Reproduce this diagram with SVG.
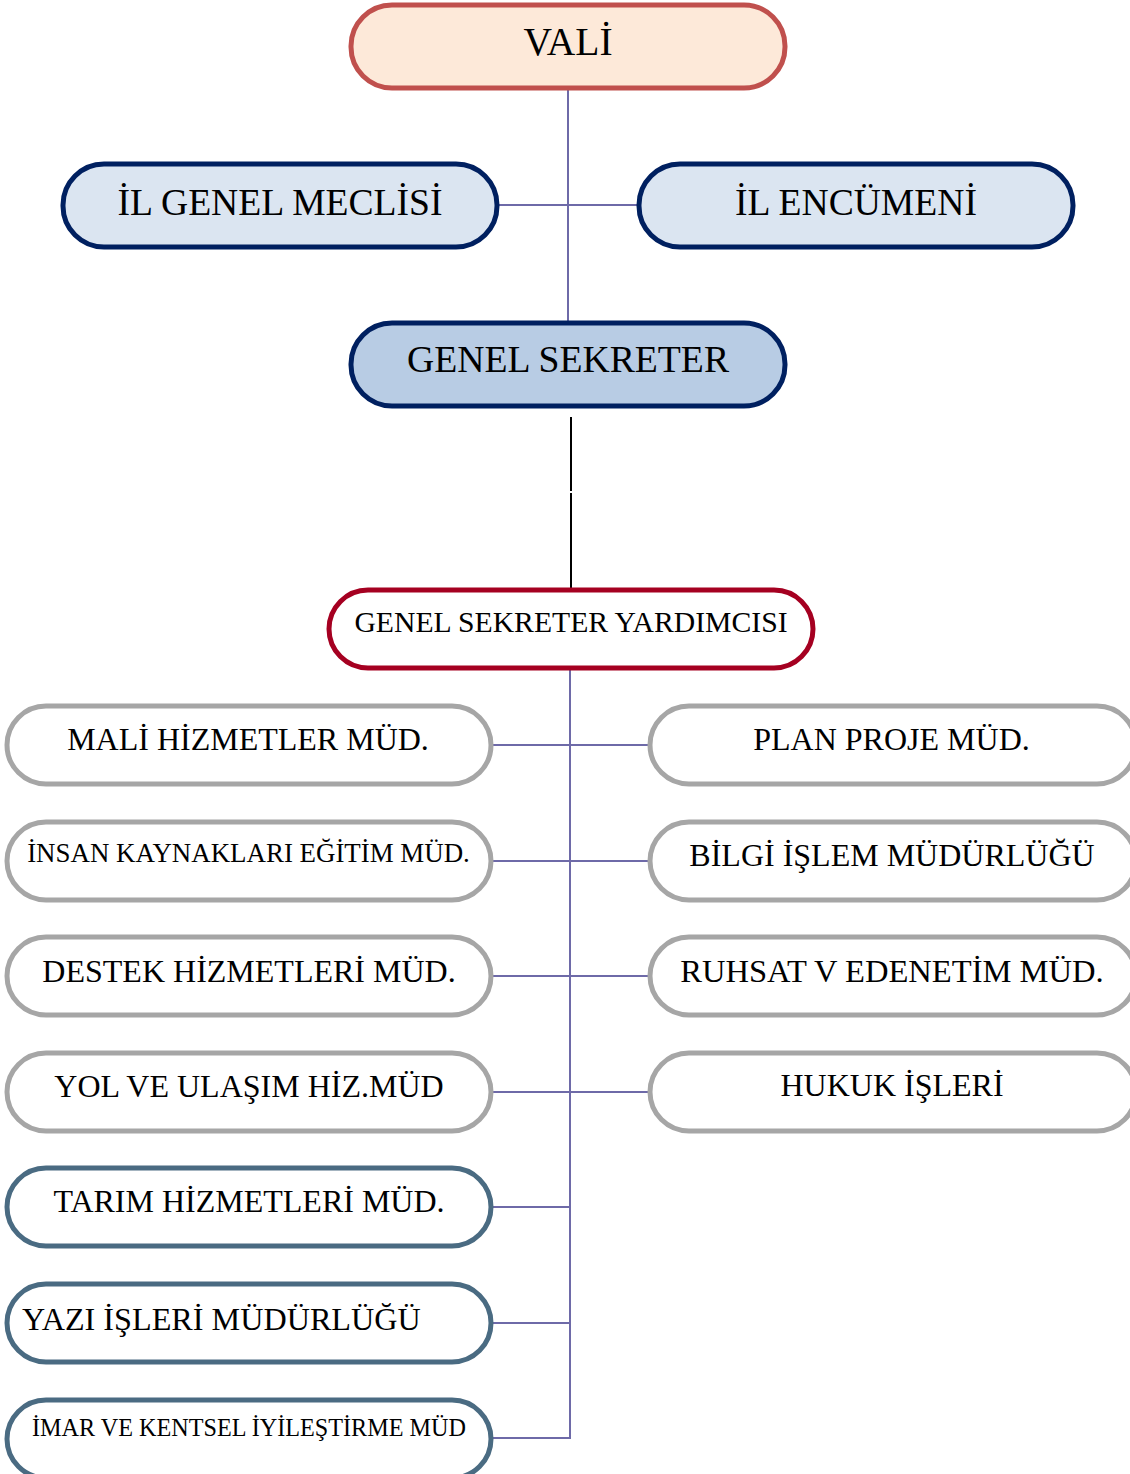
<svg xmlns="http://www.w3.org/2000/svg" width="1130" height="1474" viewBox="0 0 1130 1474">
<style>
text{font-family:"Liberation Serif","Times New Roman",serif;fill:#000;text-anchor:middle}
.top rect{stroke-width:5}
.gray rect{fill:#fff;stroke:#A6A6A6;stroke-width:5}
.slate rect{fill:#fff;stroke:#4A6B82;stroke-width:5}
.conn line,.conn polyline{stroke:#6E6AA8;stroke-width:2;fill:none}
.t30{font-size:32px}
</style>
<rect width="1130" height="1474" fill="#fff"/>
<g id="connectors" class="conn">
<line x1="568" y1="88" x2="568" y2="322"/>
<line x1="497" y1="205" x2="639" y2="205"/>
<line x1="571" y1="417" x2="571" y2="491" style="stroke:#000"/>
<line x1="571" y1="493" x2="571" y2="590" style="stroke:#000"/>
<polyline points="570,668 570,1438 491,1438"/>
<line x1="491" y1="745" x2="650" y2="745"/>
<line x1="491" y1="861" x2="650" y2="861"/>
<line x1="491" y1="976" x2="650" y2="976"/>
<line x1="491" y1="1092" x2="650" y2="1092"/>
<line x1="491" y1="1207" x2="570" y2="1207"/>
<line x1="491" y1="1323" x2="570" y2="1323"/>
</g>
<g id="vali" class="top"><rect x="351" y="5" width="434" height="83" rx="41" fill="#FDE9D9" stroke="#C0504D"/><text x="568" y="55" font-size="39.5">VALİ</text></g>
<g id="il-genel-meclisi" class="top"><rect x="63" y="164" width="434" height="83" rx="41" fill="#DBE5F1" stroke="#002060"/><text x="280" y="215" font-size="37.6">İL GENEL MECLİSİ</text></g>
<g id="il-encumeni" class="top"><rect x="639" y="164" width="434" height="83" rx="41" fill="#DBE5F1" stroke="#002060"/><text x="856" y="215" font-size="37.6">İL ENCÜMENİ</text></g>
<g id="genel-sekreter" class="top"><rect x="351" y="323" width="434" height="83" rx="41" fill="#B8CCE4" stroke="#002060"/><text x="568" y="372" font-size="37.7">GENEL SEKRETER</text></g>
<g id="gs-yardimcisi" class="top"><rect x="329" y="590" width="484" height="78" rx="39" fill="#fff" stroke="#A50021"/><text x="571" y="632" font-size="29.7">GENEL SEKRETER YARDIMCISI</text></g>
<g id="mali" class="gray"><rect x="7" y="706" width="484" height="78" rx="39"/><text x="248" y="750" class="t30">MALİ HİZMETLER MÜD.</text></g>
<g id="insan" class="gray"><rect x="7" y="822" width="484" height="78" rx="39"/><text x="248.5" y="862" font-size="26.9">İNSAN KAYNAKLARI EĞİTİM MÜD.</text></g>
<g id="destek" class="gray"><rect x="7" y="937" width="484" height="78" rx="39"/><text x="249" y="982" class="t30">DESTEK HİZMETLERİ MÜD.</text></g>
<g id="yol" class="gray"><rect x="7" y="1053" width="484" height="78" rx="39"/><text x="249" y="1097" class="t30">YOL VE ULAŞIM HİZ.MÜD</text></g>
<g id="plan" class="gray"><rect x="650" y="706" width="486" height="78" rx="39"/><text x="891.5" y="750" class="t30">PLAN PROJE MÜD.</text></g>
<g id="bilgi" class="gray"><rect x="650" y="822" width="486" height="78" rx="39"/><text x="892" y="866" class="t30">BİLGİ İŞLEM MÜDÜRLÜĞÜ</text></g>
<g id="ruhsat" class="gray"><rect x="650" y="937" width="486" height="78" rx="39"/><text x="892" y="982" font-size="32.6">RUHSAT V EDENETİM MÜD.</text></g>
<g id="hukuk" class="gray"><rect x="650" y="1053" width="486" height="78" rx="39"/><text x="892" y="1096" class="t30">HUKUK İŞLERİ</text></g>
<g id="tarim" class="slate"><rect x="7" y="1168" width="484" height="78" rx="39"/><text x="249" y="1212" class="t30">TARIM HİZMETLERİ MÜD.</text></g>
<g id="yazi" class="slate"><rect x="7" y="1284" width="484" height="78" rx="39"/><text x="22" y="1330" font-size="32.2" style="text-anchor:start">YAZI İŞLERİ MÜDÜRLÜĞÜ</text></g>
<g id="imar" class="slate"><rect x="7" y="1400" width="484" height="78" rx="39"/><text x="249" y="1436" font-size="24.2">İMAR VE KENTSEL İYİLEŞTİRME MÜD</text></g>
</svg>
